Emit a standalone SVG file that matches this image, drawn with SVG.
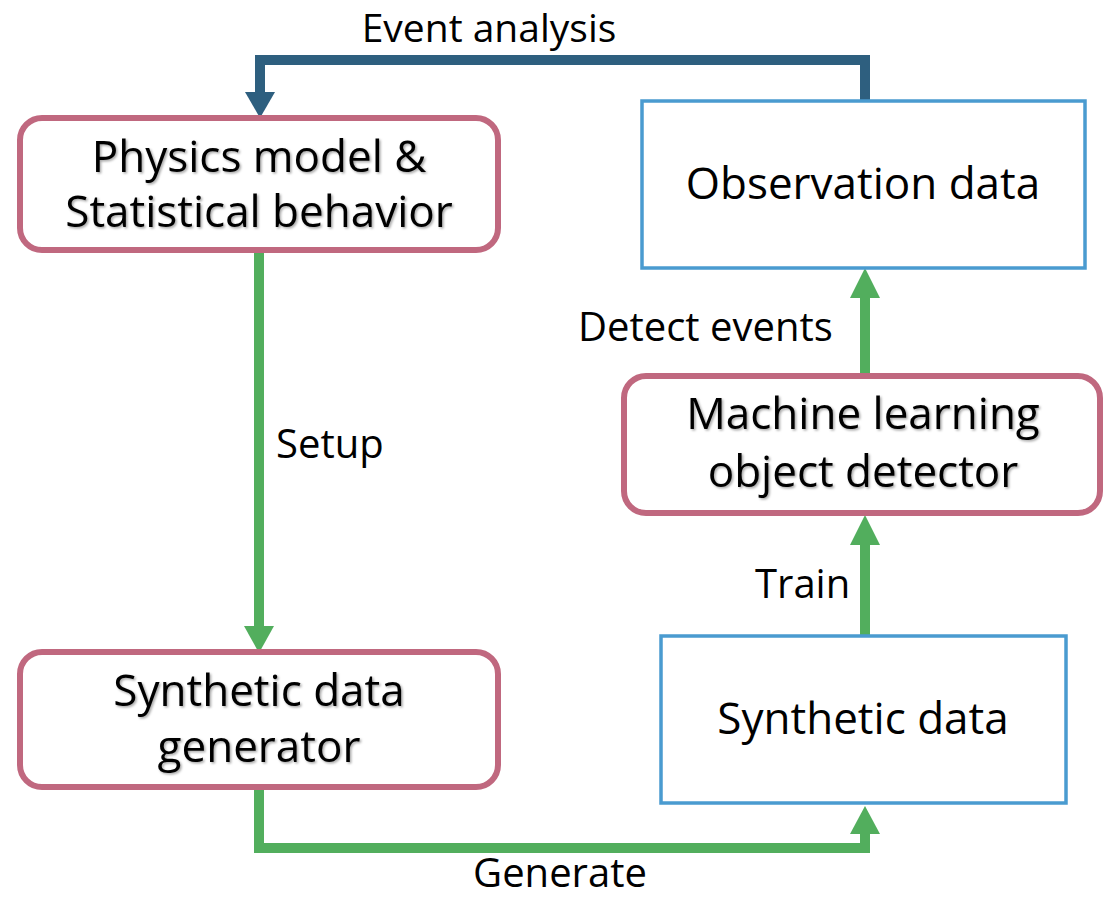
<svg xmlns="http://www.w3.org/2000/svg" width="1114" height="897" viewBox="0 0 1114 897">
<defs>
<style>
.pink{fill:#fff;stroke:#C0687F;stroke-width:6}
.blue{fill:#fff;stroke:#4A9BD0;stroke-width:3.5}
.nt{font-family:"Open Sans","Noto Sans",sans-serif;font-size:44px;fill:#000;text-anchor:middle}
.lt{font-family:"Open Sans","Noto Sans",sans-serif;font-size:40px;fill:#000}
.g{fill:none;stroke:#52AE5D;stroke-width:10}
.d{fill:none;stroke:#2E5F7F;stroke-width:10}
.sh{filter:url(#ts)}
</style>
<filter id="ts" x="-10%" y="-20%" width="120%" height="140%">
<feDropShadow dx="1.5" dy="1.5" stdDeviation="1.2" flood-color="#000" flood-opacity="0.35"/>
</filter>
</defs>
<rect width="1114" height="897" fill="#fff"/>
<g id="connectors">
<path class="d" d="M865,101 V60 H260 V95"/>
<polygon points="245,92 275,92 260,118" fill="#2E5F7F"/>
<path class="g" d="M259,250 V628"/>
<polygon points="244,626 274,626 259,653" fill="#52AE5D"/>
<path class="g" d="M259,787 V848 H865 V832"/>
<polygon points="850,834 880,834 865,806" fill="#52AE5D"/>
<path class="g" d="M865,636 V542"/>
<polygon points="850,545 880,545 865,515" fill="#52AE5D"/>
<path class="g" d="M865,376 V295"/>
<polygon points="850,298 880,298 865,268" fill="#52AE5D"/>
<text class="lt" x="489" y="42" text-anchor="middle" style="font-size:39px">Event analysis</text>
<text class="lt" x="276" y="458">Setup</text>
<text class="lt" x="560" y="887" text-anchor="middle">Generate</text>
<text class="lt" x="755" y="598">Train</text>
<text class="lt" x="578" y="341">Detect events</text>
</g>
<g id="physics">
<rect class="pink" x="20" y="118" width="478" height="132" rx="22"/>
<text class="nt sh" x="259" y="172">Physics model &amp;</text>
<text class="nt sh" x="259" y="227">Statistical behavior</text>
</g>
<g id="generator">
<rect class="pink" x="20" y="652" width="478" height="135" rx="22"/>
<text class="nt sh" x="259" y="706">Synthetic data</text>
<text class="nt sh" x="259" y="762">generator</text>
</g>
<g id="observation">
<rect class="blue" x="642" y="101" width="443" height="167"/>
<text class="nt" x="863" y="199">Observation data</text>
</g>
<g id="mldetector">
<rect class="pink" x="624" y="376" width="476" height="137" rx="22"/>
<text class="nt sh" x="863" y="429">Machine learning</text>
<text class="nt sh" x="863" y="487">object detector</text>
</g>
<g id="synthetic">
<rect class="blue" x="661" y="636" width="405" height="167"/>
<text class="nt" x="863" y="734">Synthetic data</text>
</g>
</svg>
